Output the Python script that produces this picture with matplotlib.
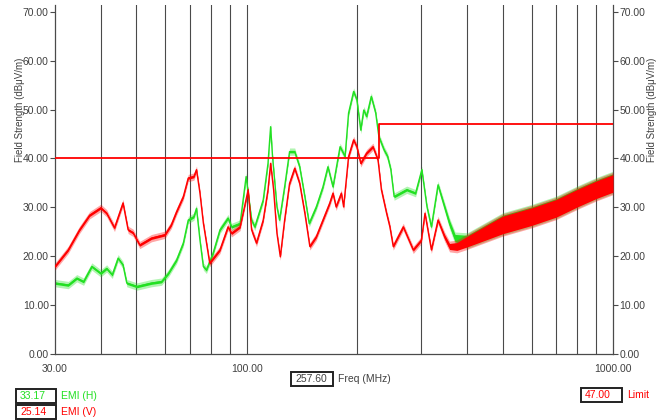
"""EMI radiated emission scan: horizontal / vertical polarisation vs. limit."""
import numpy as np
import matplotlib
matplotlib.use("Agg")
import matplotlib.pyplot as plt
from matplotlib.patches import Rectangle
from matplotlib.ticker import FixedLocator, NullLocator, FuncFormatter

plt.rcParams["font.family"] = ["Liberation Sans", "DejaVu Sans"]

# ---------------------------------------------------------------------------
# Scan data (MHz, dBuV/m)
# ---------------------------------------------------------------------------
H_FREQ = [30, 32.6, 34.4, 35.9, 37.8, 40, 41.5, 43.0, 44.6, 46.0, 47.1, 50.2,
          55.0, 58.6, 61.2, 64.4, 67.2, 69.3, 71.8, 73.0, 74.6, 76.2, 77.7,
          81.0, 84.6, 89.0, 91.0, 96.0, 99.7, 103.2, 105.3, 111.0, 114.4,
          116.3, 117.7, 121.0, 123.0, 127.0, 131.0, 135.3, 139.6, 144.2,
          148.2, 155.0, 161.6, 166.7, 172.1, 179.9, 185.7, 189.8, 195.9, 200,
          204.9, 208.8, 212.6, 218.9, 225.1, 229.6, 237.1, 242.6, 247.6,
          252.7, 273.6, 289.2, 300.8, 310.7, 319.4, 333, 347, 358, 370.7,
          400, 500, 600, 700, 800, 900, 1000]
H_LEVEL = [14.5, 14.1, 15.5, 14.8, 17.9, 16.5, 17.5, 16.2, 19.6, 18.2, 14.5,
           13.8, 14.5, 14.8, 16.5, 19.2, 22.7, 27.4, 28.1, 29.8, 23.3, 17.9,
           17.2, 20.6, 25.4, 27.8, 26.0, 26.7, 36.3, 27.4, 26.0, 31.5, 39.0,
           46.5, 40.4, 30.1, 27.4, 34.2, 41.4, 41.4, 38.3, 32.2, 26.7, 30.1,
           34.2, 38.3, 34.2, 42.4, 40.4, 49.3, 53.7, 52.0, 45.8, 49.9, 48.6,
           52.7, 49.3, 44.5, 41.8, 40.4, 37.7, 32.2, 33.6, 32.9, 37.7, 30.1,
           26.0, 34.6, 30.1, 26.7, 23.7, 23.2, 26.6, 28.3, 30.0, 32.1, 33.8,
           35.1]

V_FREQ = [30, 32.6, 35.0, 37.3, 40.0, 41.5, 43.6, 46.0, 47.5, 49.0, 51.1,
          55.0, 59.9, 62.3, 64.4, 67.2, 69.3, 71.8, 73.0, 74.6, 76.2, 79.3,
          84.6, 89.0, 91.0, 96.0, 101.0, 103.2, 106.4, 111.0, 114.4, 116.3,
          118.5, 121.0, 123.6, 127.0, 131.0, 135.3, 139.6, 144.2, 148.8,
          155.0, 161.6, 168.5, 172.1, 175.5, 181.4, 184.0, 189.8, 195.9, 200,
          204.9, 212.6, 221.3, 228.4, 233.3, 241.0, 246.1, 251.3, 267.7,
          285.0, 300, 306.8, 319.4, 333, 347, 358, 375, 400, 500, 600, 700,
          800, 900, 1000]
V_LEVEL = [17.9, 21.3, 25.4, 28.4, 29.9, 28.8, 25.8, 30.9, 25.4, 24.8, 22.3,
           23.7, 24.4, 26.4, 29.1, 32.2, 36.0, 36.3, 37.7, 32.9, 26.8, 18.6,
           21.3, 26.0, 24.7, 26.0, 33.6, 25.4, 22.7, 27.4, 33.6, 39.0, 33.6,
           24.7, 19.9, 27.4, 34.9, 38.0, 34.9, 28.8, 22.0, 24.0, 27.4, 30.8,
           32.9, 30.1, 32.9, 30.1, 40.4, 43.8, 42.4, 39.0, 41.1, 42.4, 39.7,
           33.6, 28.8, 26.0, 22.0, 26.0, 21.3, 23.3, 28.8, 21.3, 27.4, 24.0,
           22.0, 22.0, 23.0, 26.4, 28.1, 29.8, 31.9, 33.6, 34.9]

# Class B limit: 40 dBuV/m up to 230 MHz, 47 dBuV/m above
LIMIT_FREQ = [30, 230, 230, 1000]
LIMIT_LEVEL = [40, 40, 47, 47]

# receiver noise spread (+/- dB): thin below ~300 MHz, broad on the floor
NOISE_LOW = 0.25
NOISE_FLOOR = 1.8
FRINGE = 0.5

CURSOR_FREQ = "257.60"
MARKER_H = "33.17"
MARKER_V = "25.14"
LIMIT_READOUT = "47.00"

GREEN = "#22e022"
RED = "#ff0000"
GRID = "#4a4a4a"
TXT = "#404040"

W, H = 658, 420
fig = plt.figure(figsize=(W / 100, H / 100), dpi=100)
ax = fig.add_axes([55 / W, 1 - 354 / H, (613 - 55) / W, (354 - 5) / H])


def draw_trace(freq, level, color, z):
    f = np.asarray(freq, float)
    y = np.asarray(level, float)
    s = np.interp(np.log10(f), np.log10([330, 470]), [NOISE_LOW, NOISE_FLOOR])
    ax.fill_between(f, y - s - FRINGE, y + s + FRINGE, color=color, alpha=0.35,
                    lw=0, zorder=z)
    ax.fill_between(f, y - s, y + s, color=color, lw=0, zorder=z + 0.1)
    ax.plot(f, y, color=color, lw=1.0, zorder=z + 0.2)


draw_trace(H_FREQ, H_LEVEL, GREEN, 2)
draw_trace(V_FREQ, V_LEVEL, RED, 4)

ax.plot(LIMIT_FREQ, LIMIT_LEVEL, color=RED, lw=1.3, zorder=6)

ax.set_xscale("log")
ax.set_xlim(30, 1000)
ax.set_ylim(0, 71.4)

# vertical decade grid
grid_freqs = [40, 50, 60, 70, 80, 90, 100, 200, 300, 400, 500, 600, 700, 800, 900]
for g in grid_freqs:
    ax.axvline(g, color=GRID, lw=0.8, zorder=1)

ax.xaxis.set_major_locator(FixedLocator([30, 100, 1000]))
ax.xaxis.set_minor_locator(NullLocator())
ax.xaxis.set_major_formatter(FuncFormatter(lambda v, p: f"{v:.2f}"))
ax.tick_params(axis="x", length=0, pad=7, labelsize=7.5, labelcolor=TXT)

ax.yaxis.set_major_locator(FixedLocator(np.arange(0, 71, 10)))
ax.yaxis.set_major_formatter(FuncFormatter(lambda v, p: f"{v:.2f}"))
ax.tick_params(axis="y", which="both", left=True, right=True, labelleft=True,
               labelright=True, length=3.5, width=0.8, pad=1, labelsize=7.5,
               labelcolor=TXT, color=GRID, direction="out")

for side in ("left", "right", "bottom"):
    ax.spines[side].set_color(GRID)
    ax.spines[side].set_linewidth(0.9)
ax.spines["top"].set_visible(False)

ylabel = "Field Strength (dB\u03bcV/m)"
fig.text(20 / W, 1 - 110 / H, ylabel, rotation=90, ha="center", va="center",
         fontsize=7, color=TXT)
fig.text(652 / W, 1 - 110 / H, ylabel, rotation=90, ha="center", va="center",
         fontsize=7, color=TXT)


def readout(x0, y0, x1, y1, value, color, label=None, label_color=None):
    fig.add_artist(Rectangle((x0 / W, 1 - y1 / H), (x1 - x0) / W, (y1 - y0) / H,
                             transform=fig.transFigure, fill=False,
                             edgecolor="#222222", lw=1.4))
    fig.text((x0 + 4) / W, 1 - (y0 + y1) / 2 / H, value, ha="left", va="center",
             fontsize=7.5, color=color)
    if label:
        fig.text((x1 + 5) / W, 1 - (y0 + y1) / 2 / H, label, ha="left",
                 va="center", fontsize=7.5, color=label_color)


readout(291, 372, 333, 386, CURSOR_FREQ, TXT, "Freq (MHz)", TXT)
readout(16, 389, 56, 403, MARKER_H, GREEN, "EMI (H)", GREEN)
readout(16, 405, 56, 419, MARKER_V, RED, "EMI (V)", RED)
readout(581, 388, 622, 402, LIMIT_READOUT, RED, "Limit", RED)

fig.savefig("out.png", dpi=100)
